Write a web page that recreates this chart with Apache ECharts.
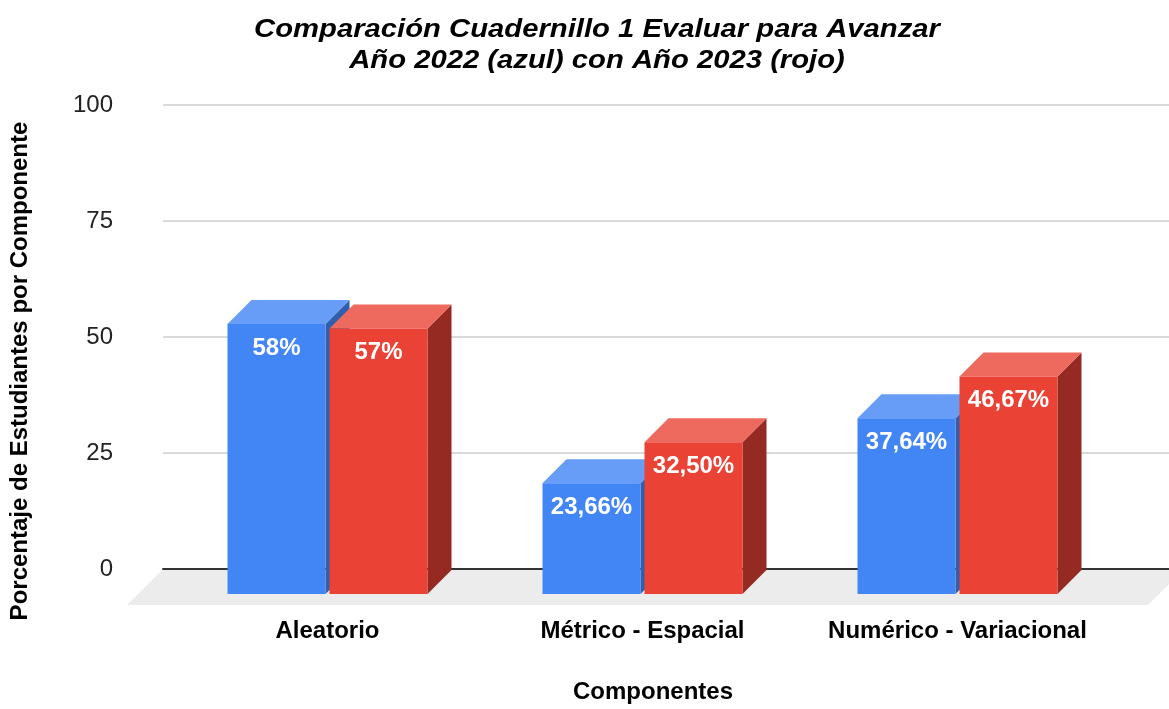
<!DOCTYPE html>
<html>
<head>
<meta charset="utf-8">
<script src="https://cdn.jsdelivr.net/npm/echarts@6/dist/echarts.min.js"></script>
<style>
  html, body { margin: 0; padding: 0; background: #fff; }
  #chart { width: 1169px; height: 709px; }
</style>
</head>
<body>
<div id="chart"></div>
<script>
// datos
const categories = ['Aleatorio', 'Métrico - Espacial', 'Numérico - Variacional']
const values2022 = [58, 23.66, 37.64]
const values2023 = [57, 32.5, 46.67]
const labels2022 = ['58%', '23,66%', '37,64%']
const labels2023 = ['57%', '32,50%', '46,67%']
const yTicks = [0, 25, 50, 75, 100]

const FONT = "'Liberation Sans', Arial, sans-serif"
const DX = 24 // profundidad 3D
const DY = 24
const BAR_W = 98

const palette = {
  blue: { front: '#4285f4', top: '#679df6', side: '#2f5fae' },
  red: { front: '#ea4335', top: '#ee6a5e', side: '#952a22' }
}

function make3dRender(colors, labels, side) {
  return function(params, api) {
    const cat = api.value(0)
    const val = api.value(1)
    const back = api.coord([cat, val])
    const zero = api.coord([cat, 0])
    const x = side < 0 ? back[0] - 2 - BAR_W : back[0] + 2
    const fy = back[1] + DY
    const fb = zero[1] + DY + 1
    return {
      type: 'group',
      children: [
        {
          type: 'polygon',
          shape: { points: [[x + BAR_W, fy], [x + BAR_W + DX, fy - DY], [x + BAR_W + DX, fb - DY], [x + BAR_W, fb]] },
          style: { fill: colors.side }
        },
        {
          type: 'polygon',
          shape: { points: [[x, fy], [x + BAR_W, fy], [x + BAR_W + DX, fy - DY], [x + DX, fy - DY]] },
          style: { fill: colors.top }
        },
        {
          type: 'rect',
          shape: { x: x, y: fy, width: BAR_W, height: fb - fy },
          style: { fill: colors.front }
        },
        {
          type: 'text',
          x: x + BAR_W / 2,
          y: fy + 24,
          style: {
            text: labels[params.dataIndex],
            fill: '#fff',
            font: 'bold 24px ' + FONT,
            align: 'center',
            verticalAlign: 'middle'
          }
        }
      ]
    }
  }
}

const chart = echarts.init(document.getElementById('chart'))
chart.setOption({
  backgroundColor: '#fff',
  animation: false,
  graphic: [
    {
      // titulo (algo ensanchado como en el original)
      type: 'text',
      x: 597,
      y: 15,
      scaleX: 1.17,
      style: {
        text: 'Comparación Cuadernillo 1 Evaluar para Avanzar\nAño 2022 (azul) con Año 2023 (rojo)',
        font: 'italic bold 25px ' + FONT,
        fill: '#000',
        align: 'center',
        verticalAlign: 'top',
        lineHeight: 31
      }
    },
    {
      type: 'polygon',
      z: -10,
      shape: { points: [[163, 569], [1184, 569], [1148, 605], [127, 605]] },
      style: { fill: '#ececec' }
    },
    {
      type: 'text',
      x: 20,
      y: 371,
      rotation: Math.PI / 2,
      style: {
        text: 'Porcentaje de Estudiantes por Componente',
        font: 'bold 24px ' + FONT,
        fill: '#000',
        align: 'center',
        verticalAlign: 'middle'
      }
    },
    {
      type: 'text',
      x: 653,
      y: 692,
      style: {
        text: 'Componentes',
        font: 'bold 24px ' + FONT,
        fill: '#000',
        align: 'center',
        verticalAlign: 'middle'
      }
    }
  ],
  grid: [
    { left: 163, right: 0, top: 105, bottom: 140 },
    { left: 170, width: 945, top: 105, bottom: 140 }
  ],
  xAxis: [
    {
      gridIndex: 0,
      type: 'category',
      data: [''],
      axisLine: { show: true, lineStyle: { color: '#333', width: 2 } },
      axisTick: { show: false },
      axisLabel: { show: false }
    },
    {
      gridIndex: 1,
      type: 'category',
      data: categories,
      axisLine: { show: false },
      axisTick: { show: false },
      axisLabel: {
        interval: 0,
        margin: 50,
        fontFamily: FONT,
        fontSize: 24,
        fontWeight: 'bold',
        color: '#000'
      }
    }
  ],
  yAxis: [
    {
      gridIndex: 0,
      type: 'value',
      min: yTicks[0],
      max: yTicks[yTicks.length - 1],
      interval: 25,
      axisLine: { show: false },
      axisTick: { show: false },
      axisLabel: { margin: 50, fontFamily: FONT, fontSize: 24, color: '#222' },
      splitLine: { lineStyle: { color: '#cccccc', width: 1.5 } }
    },
    {
      gridIndex: 1,
      type: 'value',
      min: 0,
      max: 100,
      show: false
    }
  ],
  series: [
    {
      name: 'Año 2022',
      type: 'custom',
      xAxisIndex: 1,
      yAxisIndex: 1,
      z: 3,
      renderItem: make3dRender(palette.blue, labels2022, -1),
      data: values2022.map((v, i) => [i, v])
    },
    {
      name: 'Año 2023',
      type: 'custom',
      xAxisIndex: 1,
      yAxisIndex: 1,
      z: 4,
      renderItem: make3dRender(palette.red, labels2023, 1),
      data: values2023.map((v, i) => [i, v])
    }
  ]
})
</script>
</body>
</html>
